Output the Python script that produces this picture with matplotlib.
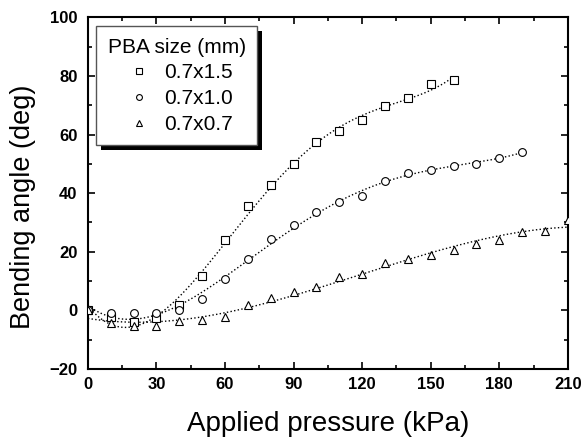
import matplotlib
matplotlib.use('Agg')
import matplotlib.pyplot as plt
from matplotlib.patches import Rectangle
from matplotlib.ticker import MultipleLocator
import numpy as np

plt.rcParams['font.family'] = ['Liberation Sans', 'DejaVu Sans']

# pressure (kPa) and bending angle (deg) for each PBA size
p_sq = [0, 10, 20, 30, 40, 50, 60, 70, 80, 90, 100, 110, 120, 130, 140, 150, 160]
a_sq = [0, -2.3, -4.1, -2.6, 1.7, 11.7, 23.9, 35.5, 42.9, 49.8, 57.6, 61.1, 64.8, 69.7, 72.5, 77.1, 78.5]

p_ci = [0, 10, 20, 30, 40, 50, 60, 70, 80, 90, 100, 110, 120, 130, 140, 150, 160, 170, 180, 190]
a_ci = [0, -0.8, -0.8, -0.8, 0, 4.0, 10.6, 17.4, 24.5, 29.0, 33.6, 37.0, 39.0, 44.0, 47.0, 48.0, 49.1, 50.0, 52.1, 54.0]

p_tr = [0, 10, 20, 30, 40, 50, 60, 70, 80, 90, 100, 110, 120, 130, 140, 150, 160, 170, 180, 190, 200, 210]
a_tr = [0, -4.3, -5.4, -5.4, -3.6, -3.2, -2.3, 1.7, 4.3, 6.3, 8.0, 11.4, 12.5, 16.3, 17.4, 18.8, 20.7, 22.7, 24.1, 26.7, 27.0, 30.7]

labels = ['0.7x1.5', '0.7x1.0', '0.7x0.7']
markers = ['s', 'o', '^']

fig = plt.figure(figsize=(5.86, 4.41), dpi=100)
ax = fig.add_axes([0.150, 0.163, 0.819, 0.798])

series = [(p_sq, a_sq, 5), (p_ci, a_ci, 4), (p_tr, a_tr, 3)]
for (p, a, deg), lab, m in zip(series, labels, markers):
    p = np.array(p, float)
    a = np.array(a, float)
    coef = np.polyfit(p, a, deg)
    xs = np.linspace(0, p.max(), 200)
    ax.plot(xs, np.polyval(coef, xs), ':', color='k', lw=1.0, zorder=2)
    ax.plot(p, a, m, mfc='white', mec='k', mew=0.8, ms=5.6,
            linestyle='none', label=lab, zorder=3)

ax.set_xlim(0, 210)
ax.set_ylim(-20, 100)
ax.xaxis.set_major_locator(MultipleLocator(30))
ax.xaxis.set_minor_locator(MultipleLocator(15))
ax.yaxis.set_major_locator(MultipleLocator(20))
ax.yaxis.set_minor_locator(MultipleLocator(10))
ax.tick_params(which='both', direction='in', top=True, right=True, width=1.2)
ax.tick_params(which='major', length=5, labelsize=12)
ax.tick_params(axis='x', which='major', pad=6)
ax.tick_params(axis='y', which='major', pad=7.5)
ax.tick_params(which='minor', length=3)
for lb in ax.get_xticklabels() + ax.get_yticklabels():
    lb.set_fontweight('bold')
for s in ax.spines.values():
    s.set_linewidth(1.5)

ax.set_xlabel('Applied pressure (kPa)', fontsize=20, va='center')
ax.set_ylabel('Bending angle (deg)', fontsize=19.5, va='center')
ax.xaxis.set_label_coords(0.5, -0.156)
ax.yaxis.set_label_coords(-0.136, 0.46)

leg = ax.legend(title='PBA size (mm)', loc='upper left', fontsize=15, title_fontsize=15,
                frameon=True, fancybox=False, edgecolor='#555555', framealpha=1,
                borderaxespad=0, borderpad=0.55, handlelength=1.8, handletextpad=0.3,
                labelspacing=0.32, markerscale=0.75, bbox_to_anchor=(0.017, 0.974))
leg.get_frame().set_linewidth(1.0)
leg.set_zorder(6)

fig.canvas.draw()
bb = leg.get_window_extent()
ax.add_patch(Rectangle((bb.x0 + 5, bb.y0 - 5), bb.width, bb.height, transform=None,
                       facecolor='k', edgecolor='none', zorder=5, clip_on=False))

fig.savefig('out.png', dpi=100)
